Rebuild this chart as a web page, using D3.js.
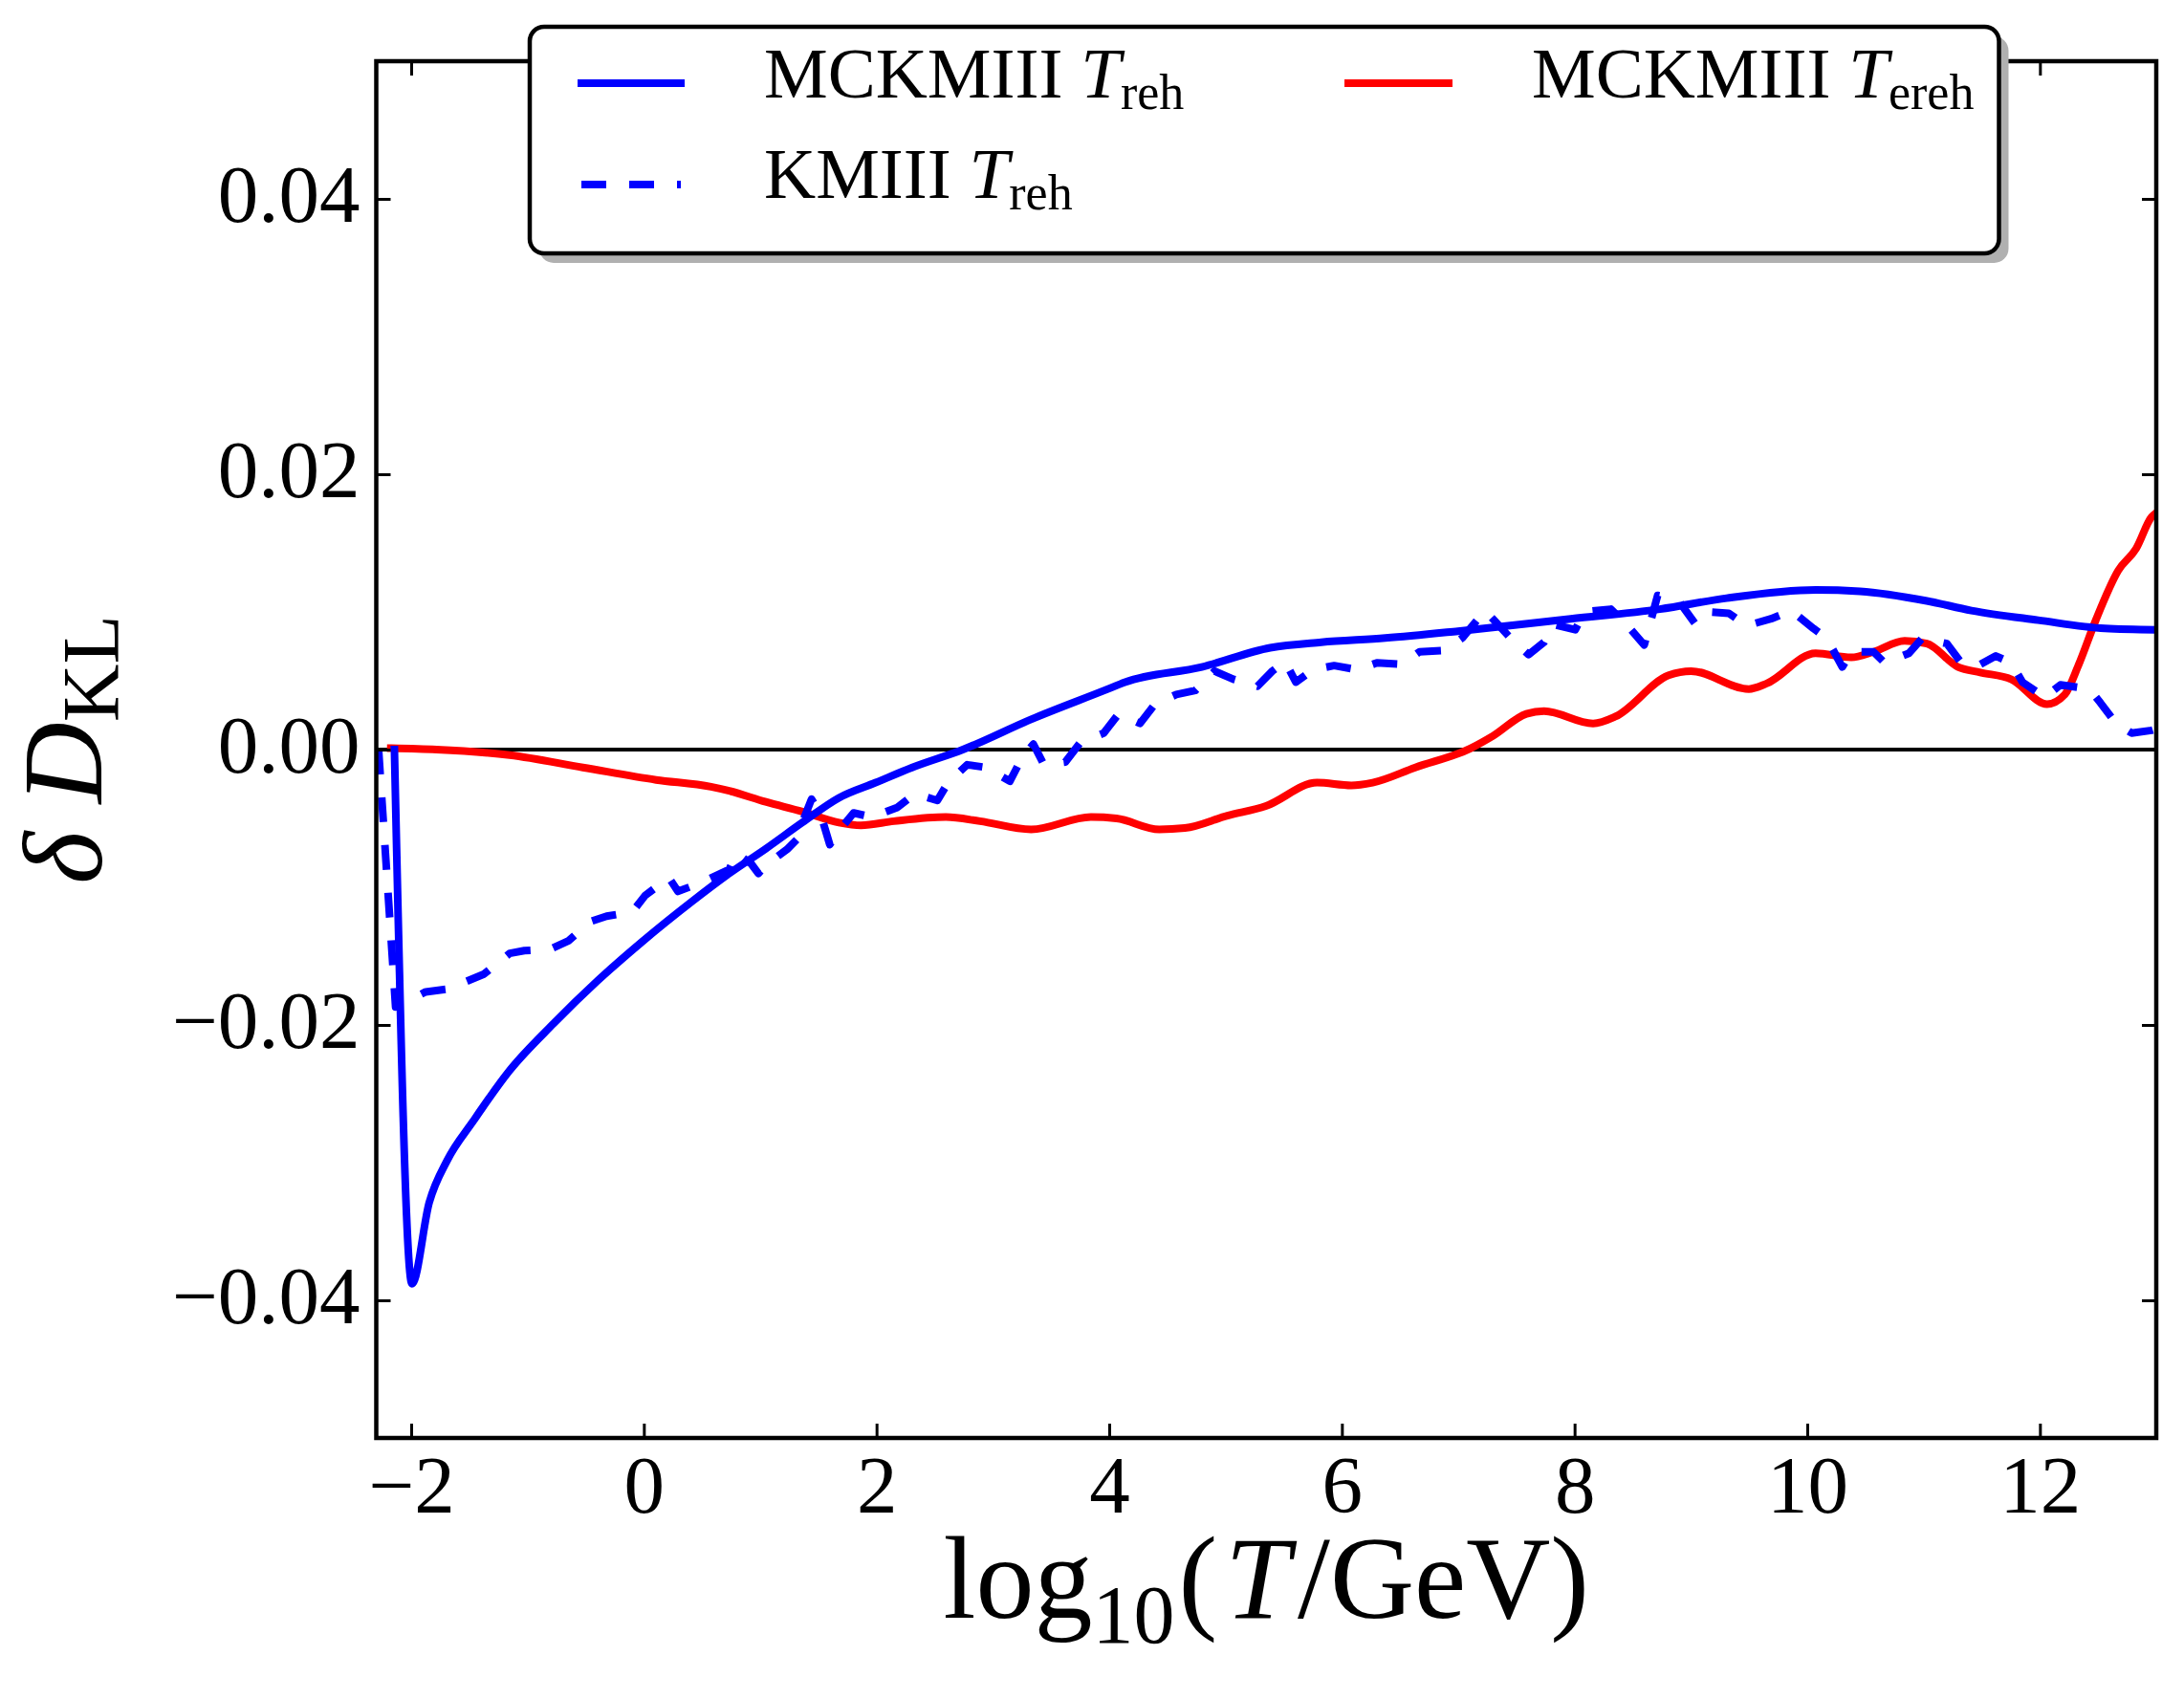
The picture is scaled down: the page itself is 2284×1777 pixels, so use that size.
<!DOCTYPE html>
<html>
<head>
<meta charset="utf-8">
<script src="https://cdn.jsdelivr.net/npm/d3@7"></script>
<style>
  html, body { margin: 0; padding: 0; background: #fff; }
  svg { display: block; }
  text { font-family: "Liberation Serif", "DejaVu Serif", serif; fill: #000; }
</style>
</head>
<body>
<svg id="chart" width="2284" height="1777"></svg>
<script>
// ---------------- data ----------------
const xTicks = [-2, 0, 2, 4, 6, 8, 10, 12];
const yTicks = [-0.04, -0.02, 0.00, 0.02, 0.04];
const xDomain = [-2.3, 13];
const yDomain = [-0.05, 0.05];

// MCKMIII T_reh (solid blue)
const mckmiiiReh = [
  [-2.144, 0.0], [-1.993, -0.0388], [-1.845, -0.0329], [-1.688, -0.0298], [-1.468, -0.0270],
  [-1.153, -0.0233], [-0.776, -0.0199], [-0.399, -0.0168], [-0.021, -0.0140], [0.419, -0.0110],
  [0.734, -0.0090], [1.048, -0.0072], [1.362, -0.0053], [1.677, -0.0035], [1.992, -0.0024],
  [2.306, -0.0013], [2.742, 0.0], [3.329, 0.0022], [3.989, 0.0044], [4.136, 0.0049],
  [4.796, 0.0060], [5.384, 0.0074], [5.823, 0.0078], [6.374, 0.0081], [6.997, 0.0086],
  [7.968, 0.0095], [8.733, 0.0102], [9.307, 0.0110], [10.072, 0.0116], [10.454, 0.0115],
  [11.028, 0.0108], [11.411, 0.0101], [11.984, 0.0094], [12.559, 0.0088], [13.0, 0.0087]
];

// KMIII T_reh (dashed blue)
const kmiiiReh = [
  [-2.28, 0.0], [-2.134, -0.0187], [-1.876, -0.0176], [-1.688, -0.0174], [-1.373, -0.0163],
  [-1.153, -0.0148], [-1.027, -0.0146], [-0.807, -0.0145], [-0.650, -0.0139], [-0.461, -0.0125],
  [-0.320, -0.0121], [-0.100, -0.0118], [0.011, -0.0106], [0.215, -0.0093], [0.293, -0.0103],
  [0.482, -0.0097], [0.734, -0.0087], [0.797, -0.0075], [0.923, -0.0083], [0.985, -0.0090],
  [1.048, -0.0084], [1.237, -0.0072], [1.331, -0.0064], [1.362, -0.0053], [1.441, -0.0036],
  [1.520, -0.0047], [1.598, -0.0069], [1.677, -0.0059], [1.803, -0.0046], [1.960, -0.0049],
  [2.180, -0.0042], [2.330, -0.0032], [2.523, -0.0037], [2.614, -0.0024], [2.779, -0.0011],
  [2.944, -0.0013], [3.146, -0.0023], [3.256, -0.0005], [3.348, 0.0004], [3.439, -0.0011],
  [3.623, -0.0009], [3.751, 0.0005], [3.953, 0.0012], [4.081, 0.0026], [4.265, 0.0019],
  [4.393, 0.0033], [4.577, 0.0040], [4.741, 0.0043], [4.906, 0.0057], [5.071, 0.0051],
  [5.274, 0.0046], [5.402, 0.0057], [5.512, 0.0064], [5.604, 0.0049], [5.750, 0.0058],
  [5.933, 0.0061], [6.136, 0.0058], [6.301, 0.0063], [6.521, 0.0062], [6.667, 0.0071],
  [6.887, 0.0072], [7.034, 0.0081], [7.230, 0.0101], [7.318, 0.0093], [7.471, 0.0079],
  [7.605, 0.0069], [7.738, 0.0078], [7.815, 0.0091], [8.006, 0.0087], [8.083, 0.0100],
  [8.312, 0.0102], [8.446, 0.0091], [8.599, 0.0076], [8.714, 0.0112], [8.886, 0.0109],
  [9.040, 0.0091], [9.154, 0.0100], [9.326, 0.0099], [9.479, 0.0090], [9.689, 0.0095],
  [9.862, 0.0101], [10.053, 0.0088], [10.167, 0.0081], [10.301, 0.0060], [10.378, 0.0071],
  [10.569, 0.0071], [10.665, 0.0063], [10.875, 0.0070], [10.990, 0.0081], [11.200, 0.0077],
  [11.315, 0.0064], [11.449, 0.0060], [11.621, 0.0068], [11.755, 0.0063], [11.850, 0.0049],
  [12.042, 0.0038], [12.176, 0.0047], [12.425, 0.0044], [12.520, 0.0034], [12.654, 0.0019],
  [12.788, 0.0012], [12.960, 0.0014], [13.0, 0.0015]
];

// MCKMIII T_ereh (solid red)
const mckmiiiEreh = [
  [-2.175, 0.0001], [-1.782, 0.0], [-1.153, -0.0004], [-0.524, -0.0013], [0.105, -0.0022],
  [0.577, -0.0027], [0.734, -0.0030], [1.048, -0.0038], [1.362, -0.0045], [1.677, -0.0053],
  [1.866, -0.0055], [2.149, -0.0052], [2.596, -0.0049], [2.889, -0.0052], [3.329, -0.0058],
  [3.843, -0.0049], [4.063, -0.0050], [4.430, -0.0058], [4.650, -0.0057], [5.016, -0.0048],
  [5.347, -0.0041], [5.787, -0.0024], [6.080, -0.0026], [6.264, -0.0024], [6.631, -0.0013],
  [7.108, 0.0001], [7.300, 0.0010], [7.586, 0.0026], [7.738, 0.0028], [8.159, 0.0019],
  [8.351, 0.0024], [8.809, 0.0054], [9.001, 0.0057], [9.498, 0.0044], [9.651, 0.0048],
  [10.072, 0.0070], [10.378, 0.0067], [10.569, 0.0071], [10.837, 0.0079], [11.028, 0.0077],
  [11.296, 0.0060], [11.487, 0.0056], [11.755, 0.0051], [12.061, 0.0033], [12.214, 0.0040],
  [12.330, 0.0061], [12.480, 0.0094], [12.673, 0.0130], [12.827, 0.0146], [12.960, 0.0169],
  [13.0, 0.0172]
];

const legendLabels = [
  { name: "MCKMIII ", sub: "reh", color: "#0000ff", dash: null },
  { name: "KMIII ", sub: "reh", color: "#0000ff", dash: "26,24" },
  { name: "MCKMIII ", sub: "ereh", color: "#ff0000", dash: null }
];

// ---------------- layout ----------------
const plot = { left: 393.5, right: 2255, top: 64, bottom: 1504 };
const svg = d3.select("#chart");

const x = d3.scaleLinear().domain(xDomain).range([plot.left, plot.right]);
const y = d3.scaleLinear().domain(yDomain).range([plot.bottom, plot.top]);

svg.append("rect").attr("width", 2284).attr("height", 1777).attr("fill", "#fff");

svg.append("defs").append("clipPath").attr("id", "clip")
  .append("rect")
  .attr("x", plot.left).attr("y", plot.top)
  .attr("width", plot.right - plot.left).attr("height", plot.bottom - plot.top);

// zero line
svg.append("line")
  .attr("x1", plot.left).attr("x2", plot.right)
  .attr("y1", y(0)).attr("y2", y(0))
  .attr("stroke", "#000").attr("stroke-width", 4);

// curves
const lineSmooth = d3.line().x(d => x(d[0])).y(d => y(d[1])).curve(d3.curveMonotoneX);
const lineRaw = d3.line().x(d => x(d[0])).y(d => y(d[1]));
const gLines = svg.append("g").attr("clip-path", "url(#clip)");
gLines.append("path").datum(mckmiiiEreh).attr("d", lineSmooth)
  .attr("fill", "none").attr("stroke", "#ff0000").attr("stroke-width", 8)
  .attr("stroke-linejoin", "round").attr("stroke-linecap", "square");
gLines.append("path").datum(kmiiiReh).attr("d", lineRaw)
  .attr("fill", "none").attr("stroke", "#0000ff").attr("stroke-width", 8)
  .attr("stroke-linejoin", "round").attr("stroke-linecap", "butt")
  .attr("stroke-dasharray", "26,24");
gLines.append("path").datum(mckmiiiReh).attr("d", lineSmooth)
  .attr("fill", "none").attr("stroke", "#0000ff").attr("stroke-width", 8)
  .attr("stroke-linejoin", "round").attr("stroke-linecap", "square");

// axes (ticks inward)
const tickFmtX = d3.format("d");
const tickFmtY = d3.format(".2f");
const tickLen = 15;

const axB = svg.append("g").attr("transform", `translate(0,${plot.bottom})`)
  .call(d3.axisBottom(x).tickValues(xTicks).tickFormat(tickFmtX).tickSizeInner(-tickLen).tickSizeOuter(0).tickPadding(18));
const axT = svg.append("g").attr("transform", `translate(0,${plot.top})`)
  .call(d3.axisTop(x).tickValues(xTicks).tickFormat("").tickSizeInner(-tickLen).tickSizeOuter(0));
const axL = svg.append("g").attr("transform", `translate(${plot.left},0)`)
  .call(d3.axisLeft(y).tickValues(yTicks).tickFormat(tickFmtY).tickSizeInner(-tickLen).tickSizeOuter(0).tickPadding(17));
const axR = svg.append("g").attr("transform", `translate(${plot.right},0)`)
  .call(d3.axisRight(y).tickValues(yTicks).tickFormat("").tickSizeInner(-tickLen).tickSizeOuter(0));

[axB, axT, axL, axR].forEach(a => {
  a.select(".domain").remove();
  a.selectAll(".tick line").attr("stroke", "#000").attr("stroke-width", 3);
  a.selectAll("text").attr("font-family", "Liberation Serif, serif").attr("font-size", 85).attr("fill", "#000");
});
axL.selectAll("text").attr("dy", "0.275em");
axB.selectAll("text").attr("dy", "0.71em");

// frame
svg.append("rect")
  .attr("x", plot.left).attr("y", plot.top)
  .attr("width", plot.right - plot.left).attr("height", plot.bottom - plot.top)
  .attr("fill", "none").attr("stroke", "#000").attr("stroke-width", 4.5);

// axis labels
const xl = svg.append("text")
  .attr("x", (plot.left + plot.right) / 2).attr("y", 1692)
  .attr("text-anchor", "middle").attr("font-size", 122);
xl.append("tspan").text("log");
xl.append("tspan").attr("font-size", 86).attr("dy", 26).text("10");
xl.append("tspan").attr("dy", -26).attr("dx", 4).text("(");
xl.append("tspan").attr("font-style", "italic").attr("dx", 8).text("T");
xl.append("tspan").attr("dx", 8).text("/GeV)");

const yl = svg.append("text")
  .attr("transform", `translate(106,${(plot.top + plot.bottom) / 2}) rotate(-90)`)
  .attr("text-anchor", "middle").attr("font-size", 118);
yl.append("tspan").attr("font-style", "italic").text("δ D");
yl.append("tspan").attr("font-size", 84).attr("dy", 18).text("KL");

// legend
const lg = { x: 554, y: 28, w: 1536.5, h: 237, r: 15 };
svg.append("rect")
  .attr("x", lg.x + 10).attr("y", lg.y + 10).attr("width", lg.w).attr("height", lg.h)
  .attr("rx", lg.r).attr("fill", "#b0b0b0");
svg.append("rect")
  .attr("x", lg.x).attr("y", lg.y).attr("width", lg.w).attr("height", lg.h)
  .attr("rx", lg.r).attr("fill", "#fff").attr("stroke", "#000").attr("stroke-width", 4.5);

const legendPos = [
  { lx1: 608, lx2: 712, ly: 87, tx: 799, ty: 102 },
  { lx1: 608, lx2: 712, ly: 193, tx: 799, ty: 207 },
  { lx1: 1410, lx2: 1515, ly: 87, tx: 1602, ty: 102 }
];
legendLabels.forEach((d, i) => {
  const p = legendPos[i];
  const l = svg.append("line")
    .attr("x1", p.lx1).attr("x2", p.lx2).attr("y1", p.ly).attr("y2", p.ly)
    .attr("stroke", d.color).attr("stroke-width", 8)
    .attr("stroke-linecap", d.dash ? "butt" : "square");
  if (d.dash) l.attr("stroke-dasharray", d.dash);
  const t = svg.append("text").attr("x", p.tx).attr("y", p.ty).attr("font-size", 75);
  t.append("tspan").text(d.name);
  t.append("tspan").attr("font-style", "italic").text("T");
  t.append("tspan").attr("font-size", 52).attr("dy", 12).text(d.sub);
});
</script>
</body>
</html>
